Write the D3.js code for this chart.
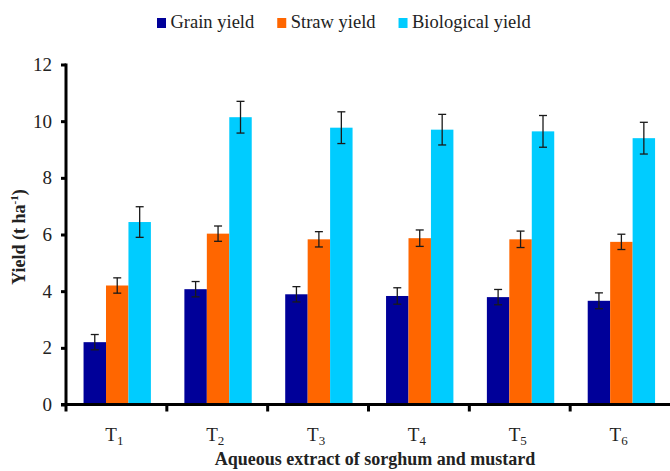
<!DOCTYPE html>
<html>
<head>
<meta charset="utf-8">
<script src="https://cdn.jsdelivr.net/npm/d3@7"></script>
<style>
  html, body { margin: 0; padding: 0; background: #fff; }
  svg { display: block; }
  text { font-family: "Liberation Serif", "Times New Roman", serif; fill: #222; }
</style>
</head>
<body>
<svg id="chart" width="670" height="471"></svg>
<script>
// Treatments (T1..T6) and yields in t/ha
const categories = ["1", "2", "3", "4", "5", "6"];
const seriesNames = ["Grain yield", "Straw yield", "Biological yield"];
const seriesColors = ["#000099", "#ff6600", "#00ccff"];
const grainYield = [2.20, 4.07, 3.89, 3.83, 3.79, 3.66];
const strawYield = [4.20, 6.03, 5.83, 5.87, 5.83, 5.74];
const bioYield   = [6.44, 10.14, 9.77, 9.70, 9.64, 9.40];
const grainErr = [0.27, 0.27, 0.27, 0.29, 0.27, 0.28];
const strawErr = [0.27, 0.27, 0.27, 0.29, 0.29, 0.27];
const bioErr   = [0.54, 0.56, 0.56, 0.54, 0.56, 0.56];
const yTicks = [0, 2, 4, 6, 8, 10, 12];

const values = [grainYield, strawYield, bioYield];
const errors = [grainErr, strawErr, bioErr];

const svg = d3.select("#chart");

const x = d3.scaleBand().domain(categories).range([66, 671]).paddingInner(0).paddingOuter(0);
const bw = x.bandwidth();
const xs = d3.scaleBand().domain(d3.range(3)).range([bw * 0.174, bw * 0.842]).padding(0);
const y = d3.scaleLinear().domain([0, 12]).range([404.5, 64.5]);

// rows: one per bar
const rows = [];
categories.forEach((c, i) => {
  for (let s = 0; s < 3; s++) rows.push({ c, s, v: values[s][i], e: errors[s][i] });
});

// bars
svg.append("g").selectAll("rect").data(rows).join("rect")
  .attr("x", d => x(d.c) + xs(d.s))
  .attr("y", d => y(d.v))
  .attr("width", xs.bandwidth())
  .attr("height", d => y(0) - y(d.v))
  .attr("fill", d => seriesColors[d.s]);

// error bars
const eb = svg.append("g").attr("stroke", "#1a1a1a").attr("stroke-width", 1.3);
rows.forEach(d => {
  const cx = x(d.c) + xs(d.s) + xs.bandwidth() / 2;
  const y1 = y(d.v + d.e), y2 = y(d.v - d.e);
  eb.append("line").attr("x1", cx).attr("x2", cx).attr("y1", y1).attr("y2", y2);
  eb.append("line").attr("x1", cx - 4).attr("x2", cx + 4).attr("y1", y1).attr("y2", y1);
  eb.append("line").attr("x1", cx - 4).attr("x2", cx + 4).attr("y1", y2).attr("y2", y2);
});

// y axis
const yAxis = svg.append("g").attr("transform", "translate(66,0)")
  .call(d3.axisLeft(y).tickValues(yTicks).tickSize(5).tickPadding(9).tickFormat(d3.format("d")));
yAxis.select(".domain").attr("stroke", "#000").attr("stroke-width", 3)
  .attr("d", `M0,${y(12) - 1}V${y(0) + 1.5}`);
yAxis.selectAll(".tick line").attr("stroke", "#000").attr("stroke-width", 3);
yAxis.selectAll(".tick text").style("font-size", "19px").attr("fill", "#222")
  .style("font-family", "Liberation Serif, serif");

// x axis
const xg = svg.append("g").attr("transform", `translate(0,${y(0)})`);
xg.append("line").attr("x1", 61).attr("x2", 670).attr("y1", 0).attr("y2", 0)
  .attr("stroke", "#000").attr("stroke-width", 3);
xg.selectAll("line.tk").data(categories).join("line").attr("class", "tk")
  .attr("x1", d => x(d)).attr("x2", d => x(d)).attr("y1", 0).attr("y2", 7)
  .attr("stroke", "#000").attr("stroke-width", 3);
const xl = xg.selectAll("text.cat").data(categories).join("text").attr("class", "cat")
  .attr("x", d => x(d) + bw / 2 - 2).attr("y", 36)
  .attr("text-anchor", "middle").style("font-size", "19px");
xl.append("tspan").text("T");
xl.append("tspan").attr("dy", 4).style("font-size", "13px").text(d => d);

// axis titles
svg.append("text")
  .attr("transform", `translate(25,237) rotate(-90)`)
  .attr("text-anchor", "middle")
  .style("font-size", "18px").style("font-weight", "bold")
  .call(t => {
    t.append("tspan").text("Yield (t ha");
    t.append("tspan").attr("dy", -7).style("font-size", "11px").text("-1");
    t.append("tspan").attr("dy", 7).text(")");
  });

svg.append("text")
  .attr("x", 375).attr("y", 465)
  .attr("text-anchor", "middle")
  .style("font-size", "18px").style("font-weight", "bold")
  .text("Aqueous extract of sorghum and mustard");

// legend
const lg = svg.append("g");
let lx = 157;
seriesNames.forEach((name, i) => {
  lg.append("rect").attr("x", lx).attr("y", 18).attr("width", 9).attr("height", 10)
    .attr("fill", seriesColors[i]);
  const t = lg.append("text").attr("x", lx + 13.5).attr("y", 28)
    .style("font-size", "18.5px").text(name);
  lx += 13.5 + t.node().getComputedTextLength() + 23;
});
</script>
</body>
</html>
